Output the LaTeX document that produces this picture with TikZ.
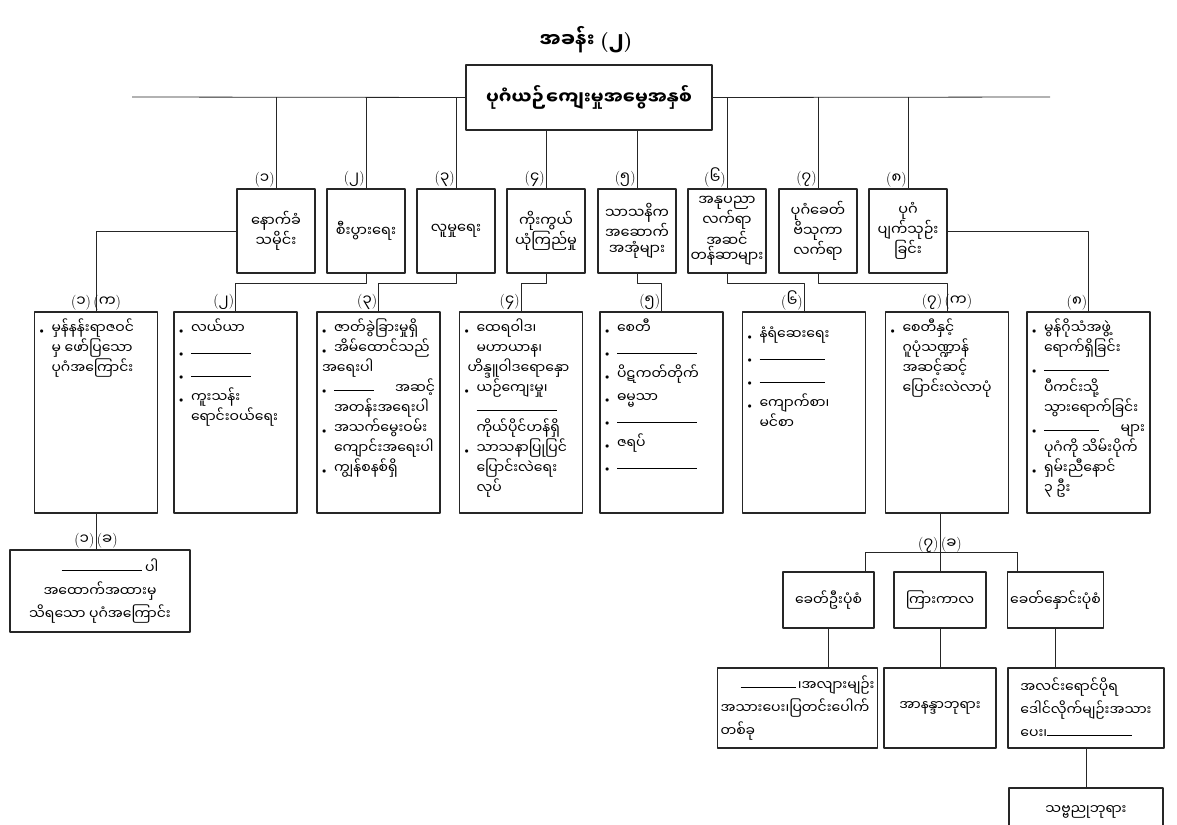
\documentclass[tikz,border=0pt]{standalone}
\usepackage{fontspec}
\newfontfamily\mmfont[Script=Myanmar]{Noto Sans Myanmar UI}
\usetikzlibrary{positioning}
\newcommand{\pn}[1]{{\rmfamily(}#1{\rmfamily)}}
\newcommand{\blk}[1]{\rule[3pt]{#1}{0.5pt}}
\newcommand{\itm}{\makebox[12pt][l]{\fontsize{8}{8}\selectfont$\bullet$}}
\newcommand{\ind}{\hspace*{12pt}}
\newcommand{\cellbox}[1]{\parbox[c][187pt][t]{113pt}{\raggedright #1}}
\tikzset{
  topbox/.style={draw,line width=1.4pt,minimum width=246pt,minimum height=65pt,font=\mmfont\bfseries\fontsize{18}{22}\selectfont},
  lvlbox/.style={draw,line width=1.3pt,align=center,inner sep=2pt,minimum width=78pt,minimum height=84pt,font=\mmfont\fontsize{14.5}{15.5}\selectfont},
  cell/.style={draw,line width=1.3pt,inner xsep=5pt,inner ysep=7pt,font=\mmfont\fontsize{14}{20}\selectfont},
  smallbox/.style={draw,line width=1.3pt,align=center,inner sep=3pt,font=\mmfont\fontsize{14}{23}\selectfont},
  lbl/.style={inner sep=1pt,font=\mmfont\fontsize{15}{16}\selectfont}
}
\begin{document}
\begin{tikzpicture}[x=1pt,y=-1pt,line join=round,line width=0.8pt,draw=black!85]
\clip (0,0) rectangle (1177,824);
\node[font=\mmfont\bfseries\fontsize{20}{22}\selectfont] (title) at (586,40) {အခန်း \pn{၂}};
\node[topbox] (root) at (589,97.5) {ပုဂံယဉ်ကျေးမှုအမွေအနှစ်};

\node[lvlbox] (a1) at (276,231) {နောက်ခံ\\သမိုင်း};
\node[lvlbox] (a2) at (366,231) {စီးပွားရေး};
\node[lvlbox] (a3) at (456,231) {လူမှုရေး};
\node[lvlbox] (a4) at (546,231) {ကိုးကွယ်\\ယုံကြည်မှု};
\node[lvlbox] (a5) at (637,231) {သာသနိက\\အဆောက်\\အအုံများ};
\node[lvlbox] (a6) at (727,231) {အနုပညာ\\လက်ရာ\\အဆင်\\တန်ဆာများ};
\node[lvlbox] (a7) at (818,231) {ပုဂံခေတ်\\ဗိသုကာ\\လက်ရာ};
\node[lvlbox] (a8) at (908,231) {ပုဂံ\\ပျက်သုဉ်း\\ခြင်း};

\node[lbl,anchor=south east] (na1) at (a1.north) {\pn{၁}};
\node[lbl,anchor=south east] (na2) at (a2.north) {\pn{၂}};
\node[lbl,anchor=south east] (na3) at (a3.north) {\pn{၃}};
\node[lbl,anchor=south east] (na4) at (a4.north) {\pn{၄}};
\node[lbl,anchor=south east] (na5) at (a5.north) {\pn{၅}};
\node[lbl,anchor=south east] (na6) at (a6.north) {\pn{၆}};
\node[lbl,anchor=south east] (na7) at (a7.north) {\pn{၇}};
\node[lbl,anchor=south east] (na8) at (a8.north) {\pn{၈}};

\coordinate (busL) at (132,97);
\coordinate (busR) at (1050,97);
\draw (busL) -- (root.west);
\draw (root.east) -- (busR);
\draw (a1.north) -- (a1.north |- busL);
\draw (a2.north) -- (a2.north |- busL);
\draw (a3.north) -- (a3.north |- busL);
\draw (a4.north) -- (a4.north |- root.south);
\draw (a5.north) -- (a5.north |- root.south);
\draw (a6.north) -- (a6.north |- busL);
\draw (a7.north) -- (a7.north |- busL);
\draw (a8.north) -- (a8.north |- busL);

\node[cell] (b1) at (96,412.5) {\cellbox{\itm မှန်နန်းရာဇဝင်\\ \ind မှ ဖော်ပြသော\\ \ind ပုဂံအကြောင်း}};
\node[cell] (b2) at (235.5,412.5) {\cellbox{\itm လယ်ယာ\\[3pt] \itm\blk{60pt}\\[3pt] \itm\blk{60pt}\\[3pt] \itm ကူးသန်း\\ \ind ရောင်းဝယ်ရေး}};
\node[cell] (b3) at (378.5,412.5) {\cellbox{\itm ဇာတ်ခွဲခြားမှုရှိ\\ \itm အိမ်ထောင်သည်\\ အရေးပါ\\ \itm\blk{40pt}\hfill အဆင့်\\ \ind အတန်းအရေးပါ\\ \itm အသက်မွေးဝမ်း\\ \ind ကျောင်းအရေးပါ\\ \itm ကျွန်စနစ်ရှိ}};
\node[cell] (b4) at (521,412.5) {\cellbox{\itm ထေရဝါဒ၊\\ \ind မဟာယာန၊\\ \hspace*{3pt}ဟိန္ဒူဝါဒရောနှော\\ \itm ယဉ်ကျေးမှု၊\\ \ind\blk{80pt}\\ \ind ကိုယ်ပိုင်ဟန်ရှိ\\ \itm သာသနာပြုပြင်\\ \ind ပြောင်းလဲရေး\\ \ind လုပ်}};
\node[cell] (b5) at (661.5,412.5) {\cellbox{\itm စေတီ\\[3pt] \itm\blk{80pt}\\[3pt] \itm ပိဋကတ်တိုက်\\[3pt] \itm ဓမ္မသာ\\[3pt] \itm\blk{80pt}\\[3pt] \itm ဇရပ်\\[3pt] \itm\blk{80pt}}};
\node[cell] (b6) at (804,412.5) {\cellbox{\vspace*{8pt}\itm နံရံဆေးရေး\\[3pt] \itm\blk{65pt}\\[3pt] \itm\blk{65pt}\\[3pt] \itm ကျောက်စာ၊\\ \ind မင်စာ}};
\node[cell] (b7) at (947,412.5) {\cellbox{\itm စေတီနှင့်\\ \ind ဂူပုံသဏ္ဍာန်\\ \ind အဆင့်ဆင့်\\ \ind ပြောင်းလဲလာပုံ}};
\node[cell] (b8) at (1088.5,412.5) {\cellbox{\itm မွန်ဂိုသံအဖွဲ့\\ \ind ရောက်ရှိခြင်း\\ \itm\blk{65pt}\\ \ind ပီကင်းသို့\\ \ind သွားရောက်ခြင်း\\ \itm\blk{55pt}\hfill များ\\ \ind ပုဂံကို သိမ်းပိုက်\\ \itm ရှမ်းညီနောင်\\ \ind ၃ ဦး}};

\draw (a1.west) -| (b1.north);
\draw (a2.south) -- ++(0,10) -| (b2.north);
\draw (a3.south) -- ++(0,10) -| (b3.north);
\draw (a4.south) -- ++(0,10) -| (b4.north);
\draw (a5.south) -- ++(0,10) -| (b5.north);
\draw (a6.south) -- ++(0,10) -| (b6.north);
\draw (a7.south) -- ++(0,10) -| (b7.north);
\draw (a8.east) -| (b8.north);

\node[lbl,anchor=south] (nb1) at (b1.north) {\pn{၁}\,\pn{က}};
\node[lbl,anchor=south east] (nb2) at (b2.north) {\pn{၂}};
\node[lbl,anchor=south east] (nb3) at (b3.north) {\pn{၃}};
\node[lbl,anchor=south east] (nb4) at (b4.north) {\pn{၄}};
\node[lbl,anchor=south east] (nb5) at (b5.north) {\pn{၅}};
\node[lbl,anchor=south east] (nb6) at (b6.north) {\pn{၆}};
\node[lbl,anchor=south] (nb7) at (b7.north) {\pn{၇}\,\pn{က}};
\node[lbl,anchor=south east] (nb8) at (b8.north) {\pn{၈}};

\node[smallbox,minimum width=180pt,minimum height=82pt] (c1) at (100,591) {\hspace*{20pt}\blk{80pt}\ ပါ\\အထောက်အထားမှ\\သိရသော ပုဂံအကြောင်း};
\draw (b1.south) -- (b1.south |- c1.north);
\node[lbl,anchor=south] (nc1) at (b1.south |- c1.north) {\pn{၁}\,\pn{ခ}};

\node[smallbox,minimum width=91pt,minimum height=56pt] (d1) at (828.5,600) {ခေတ်ဦးပုံစံ};
\node[smallbox,minimum width=92pt,minimum height=56pt] (d2) at (940,600) {ကြားကာလ};
\node[smallbox,minimum width=93pt,minimum height=56pt] (d3) at (1055.5,600) {ခေတ်နှောင်းပုံစံ};
\coordinate (jL) at (865,552);
\coordinate (jR) at (1017,552);
\draw (d2.north |- b7.south) -- (d2.north);
\draw (jL) -- (jR);
\draw (jL) -- (jL |- d1.north);
\draw (jR) -- (jR |- d3.north);
\node[lbl,anchor=south] (nd) at ([yshift=-2pt]d2.north |- jL) {\pn{၇}\,\pn{ခ}};

\node[smallbox,align=left,minimum width=155pt,minimum height=80pt] (e1) at (797.5,708) {\hspace*{20pt}\blk{55pt}\,၊အလျားမျဉ်း\\အသားပေး၊ပြတင်းပေါက်\\တစ်ခု};
\node[smallbox,minimum width=112pt,minimum height=80pt] (e2) at (940,708) {အာနန္ဒာဘုရား};
\node[smallbox,align=left,minimum width=156pt,minimum height=80pt] (e3) at (1086,708) {အလင်းရောင်ပိုရ\\ဒေါင်လိုက်မျဉ်းအသား\\ပေး၊\blk{85pt}};
\node[smallbox,minimum width=154pt,minimum height=48pt] (e4) at (1086,812) {သဗ္ဗညုဘုရား};
\draw (d1.south) -- (d1.south |- e1.north);
\draw (d2.south) -- (e2.north);
\draw (d3.south) -- (d3.south |- e3.north);
\draw (e3.south) -- (e4.north);
\end{tikzpicture}
\end{document}
